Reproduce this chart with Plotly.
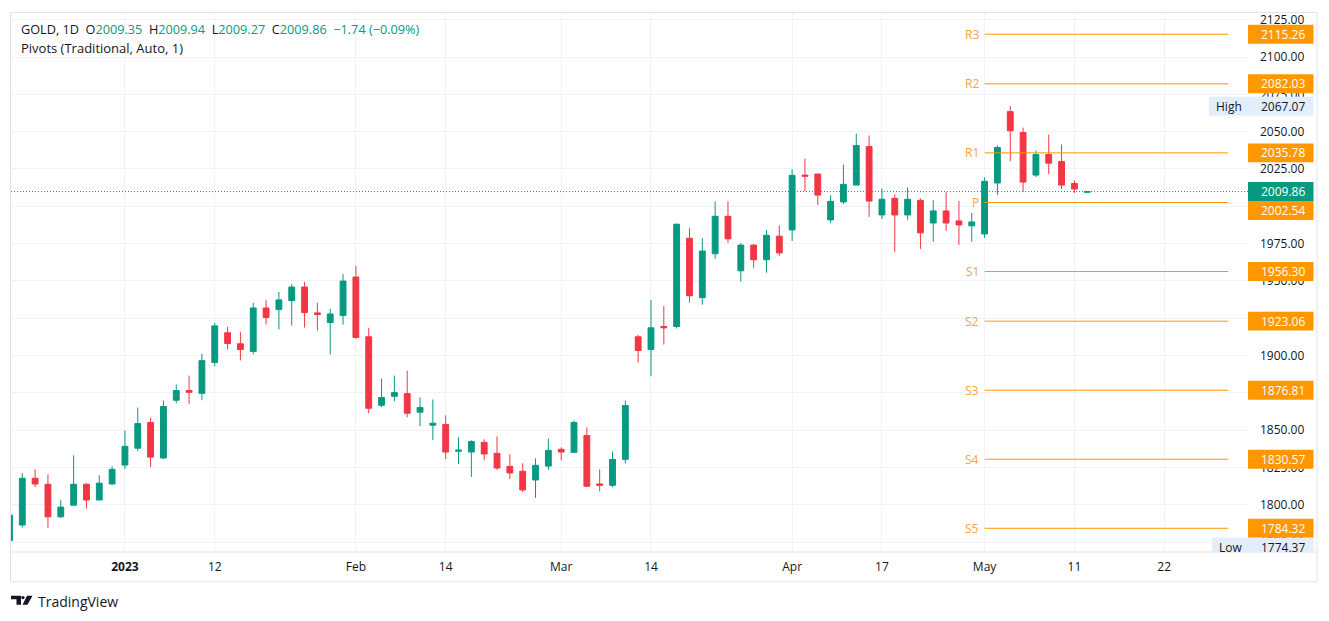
import plotly.graph_objects as go

# ---------------- data ----------------
opens = [1776.0, 1786.5, 1817.8, 1813.8, 1792.0, 1799.8, 1813.8, 1803.3, 1814.0, 1826.7,
         1838.0, 1855.2, 1831.4, 1870.1, 1876.6, 1874.7, 1895.4, 1915.3, 1907.9, 1902.8,
         1931.9, 1930.8, 1936.8, 1945.9, 1928.6, 1922.1, 1926.8, 1952.6, 1912.6, 1866.7,
         1872.7, 1874.5, 1862.1, 1853.4, 1853.9, 1835.9, 1835.4, 1841.9, 1834.5, 1825.8,
         1822.5, 1816.7, 1826.0, 1837.2, 1835.2, 1846.5, 1814.0, 1813.1, 1830.5, 1912.6,
         1904.1, 1919.5, 1919.5, 1978.6, 1938.8, 1968.2, 1993.3, 1956.8, 1974.0, 1964.2,
         1980.0, 1984.2, 2020.9, 2021.6, 1990.9, 2002.9, 2014.2, 2040.0, 1994.2, 2005.3,
         1994.2, 2004.0, 1988.8, 1996.9, 1990.2, 1986.9, 1981.5, 2015.6, 2063.4, 2049.4,
         2020.9, 2034.7, 2030.0, 2015.3, 2009.35]
highs = [1795.0, 1821.2, 1823.8, 1820.5, 1803.1, 1833.2, 1814.5, 1819.8, 1825.8, 1849.9,
         1865.2, 1858.5, 1869.9, 1880.6, 1886.6, 1901.2, 1921.9, 1919.3, 1915.9, 1935.3,
         1937.3, 1942.6, 1947.9, 1949.3, 1935.3, 1931.3, 1954.6, 1960.0, 1918.6, 1884.6,
         1886.6, 1889.9, 1871.9, 1870.6, 1859.9, 1845.4, 1843.2, 1843.9, 1845.9, 1833.8,
         1827.8, 1831.2, 1844.5, 1838.5, 1856.5, 1851.9, 1823.8, 1835.8, 1869.9, 1913.9,
         1937.3, 1933.3, 1988.3, 1985.3, 1978.6, 2003.3, 2003.3, 1975.3, 1974.6, 1984.0,
         1987.3, 2024.7, 2032.0, 2021.6, 2007.3, 2028.0, 2048.7, 2047.4, 2012.0, 2008.0,
         2012.7, 2005.3, 2004.0, 2009.3, 2003.5, 1995.5, 2019.4, 2040.7, 2067.07, 2052.7,
         2037.4, 2048.0, 2041.4, 2017.3, 2009.94]
lows = [1774.37, 1784.7, 1812.0, 1784.7, 1791.3, 1799.8, 1797.4, 1803.3, 1813.4, 1824.0,
        1836.0, 1825.4, 1830.9, 1868.1, 1867.4, 1870.1, 1892.8, 1904.1, 1896.8, 1900.8,
        1920.8, 1917.5, 1920.1, 1918.8, 1916.8, 1900.8, 1920.8, 1911.4, 1861.4, 1865.4,
        1869.4, 1858.7, 1852.7, 1843.4, 1830.7, 1827.4, 1818.7, 1830.0, 1823.4, 1817.4,
        1808.7, 1804.7, 1823.4, 1829.8, 1834.8, 1812.2, 1809.2, 1811.8, 1827.8, 1895.4,
        1886.1, 1907.4, 1918.1, 1935.5, 1934.1, 1964.8, 1975.5, 1949.5, 1958.8, 1955.5,
        1966.8, 1976.8, 2010.0, 2000.9, 1988.8, 2001.5, 2014.2, 1992.9, 1991.5, 1969.5,
        1990.9, 1971.5, 1976.2, 1983.5, 1974.2, 1976.2, 1978.8, 2007.5, 2030.2, 2009.5,
        2019.6, 2021.6, 2011.5, 2008.9, 2009.27]
closes = [1793.1, 1817.8, 1814.0, 1792.0, 1798.5, 1813.8, 1803.3, 1814.5, 1823.8, 1839.2,
          1854.5, 1832.0, 1865.9, 1876.6, 1875.4, 1896.6, 1919.9, 1908.1, 1904.1, 1931.9,
          1925.5, 1937.3, 1945.9, 1928.8, 1927.5, 1927.9, 1949.9, 1912.1, 1864.7, 1871.9,
          1875.2, 1861.4, 1865.2, 1854.7, 1835.4, 1836.7, 1842.5, 1834.1, 1824.7, 1821.4,
          1810.0, 1826.5, 1836.5, 1835.4, 1855.2, 1812.5, 1813.1, 1830.5, 1866.5, 1903.4,
          1918.6, 1918.6, 1988.0, 1940.1, 1970.0, 1993.3, 1978.2, 1974.0, 1964.2, 1980.6,
          1968.8, 2020.7, 2020.2, 2007.5, 2003.3, 2014.7, 2040.7, 2003.5, 2004.7, 1994.2,
          2004.7, 1982.2, 1996.9, 1988.8, 1987.5, 1989.5, 2016.7, 2039.4, 2050.6, 2016.2,
          2034.7, 2028.9, 2014.2, 2011.60, 2009.86]
bar_index = list(range(len(opens)))

tick_bars = [9, 16, 27, 34, 43, 50, 61, 68, 76, 83, 90]
tick_labels = ["<b>2023</b>", "12", "Feb", "14", "Mar", "14", "Apr", "17", "May", "11", "22"]

pivot_names = ["R3", "R2", "R1", "P", "S1", "S2", "S3", "S4", "S5"]
pivot_values = [2115.26, 2082.03, 2035.78, 2002.54, 1956.30, 1923.06, 1876.81, 1830.57, 1784.32]
pivot_start_bar = 76
pivot_end_bar = 95

range_high = 2067.07
range_low = 1774.37

# ---------------- style / layout ----------------
UP = "#089981"
DN = "#F23645"
ORANGE = "#FF9800"
PIV_TXT = "#F7A440"
TXT = "#131722"
GRID = "#F0F3FA"
BORDER = "#E0E3EB"
FONT = "Open Sans"

W, H = 1329, 621
ML, MR, MT, MB = 11, 81, 11, 69
PW, PH = W - ML - MR, H - MT - MB
Y_LO, Y_HI = 1768.44, 2129.47
X_LO, X_HI = 0.12, 96.53


def px_y(price):
    return MT + (Y_HI - price) / (Y_HI - Y_LO) * PH


def paper_x(px):
    return (px - ML) / PW


def paper_y(px):
    return 1 - (px - MT) / PH


fig = go.Figure()
fig.add_trace(go.Candlestick(
    x=bar_index, open=opens, high=highs, low=lows, close=closes,
    increasing=dict(line=dict(color=UP, width=1), fillcolor=UP),
    decreasing=dict(line=dict(color=DN, width=1), fillcolor=DN),
    whiskerwidth=0, showlegend=False, hoverinfo="skip",
))

shapes = []
annotations = []

# widget border and axis separator
shapes.append(dict(type="rect", xref="paper", yref="paper",
                   x0=paper_x(10.5), x1=paper_x(1317), y0=paper_y(582), y1=paper_y(10.5),
                   line=dict(color=BORDER, width=1), fillcolor="rgba(0,0,0,0)", layer="above"))
shapes.append(dict(type="line", xref="paper", yref="paper",
                   x0=paper_x(10.5), x1=paper_x(1317), y0=0, y1=0,
                   line=dict(color=BORDER, width=1), layer="above"))

# last price dotted line
last_close = closes[-1]
shapes.append(dict(type="line", xref="paper", yref="y", x0=0, x1=1, y0=last_close, y1=last_close,
                   line=dict(color=UP, width=1, dash="1px,2px"), layer="above"))

# pivot lines + labels
for name, val in zip(pivot_names, pivot_values):
    shapes.append(dict(type="line", xref="x", yref="y", x0=pivot_start_bar, x1=pivot_end_bar,
                       y0=val, y1=val, line=dict(color=ORANGE, width=1), layer="above"))
    annotations.append(dict(xref="x", yref="y", x=pivot_start_bar, y=val, xshift=-4,
                            text=name, showarrow=False, xanchor="right", yanchor="middle",
                            font=dict(family=FONT, size=12, color=PIV_TXT)))


def axis_label(price, text, bg, color, offset=0, x_left=1248, x_right=1313.5, prefix=None):
    cy = px_y(price) + offset
    top, bot = cy - 9.5, min(cy + 9.5, MT + PH)
    shapes.append(dict(type="rect", xref="paper", yref="paper",
                       x0=paper_x(x_left), x1=paper_x(x_right),
                       y0=paper_y(bot), y1=paper_y(top),
                       fillcolor=bg, line=dict(width=0), layer="above"))
    annotations.append(dict(xref="paper", yref="paper", x=paper_x(1259), y=paper_y(cy),
                            text=text, showarrow=False, xanchor="left", yanchor="middle",
                            font=dict(family=FONT, size=12, color=color)))
    if prefix:
        annotations.append(dict(xref="paper", yref="paper", x=paper_x(x_left + 5), y=paper_y(cy),
                                text=prefix, showarrow=False, xanchor="left", yanchor="middle",
                                font=dict(family=FONT, size=12, color=color)))


for name, val in zip(pivot_names, pivot_values):
    axis_label(val, f"{val:.2f}", ORANGE, "white", offset=8 if name == "P" else 0)
axis_label(last_close, f"{last_close:.2f}", UP, "white")
axis_label(range_high, f"{range_high:.2f}", "#E3EEFC", TXT, x_left=1209, prefix="High")
axis_label(range_low, f"{range_low:.2f}", "#E3EEFC", TXT, offset=4, x_left=1212, prefix="Low")

# header
o, h, l, c = opens[-1], highs[-1], lows[-1], closes[-1]
chg = c - closes[-2]
pct = chg / closes[-2] * 100


def fmt(v):
    return f"{v:.2f}".replace("-", "\u2212")


sp = "\u00a0 "
val_col = UP if c >= o else DN
hdr = (f"GOLD, 1D{sp}O<span style='color:{val_col}'>{o:.2f}</span>{sp}"
       f"H<span style='color:{val_col}'>{h:.2f}</span>{sp}"
       f"L<span style='color:{val_col}'>{l:.2f}</span>{sp}"
       f"C<span style='color:{val_col}'>{c:.2f}</span>{sp}"
       f"<span style='color:{val_col}'>{fmt(chg)} ({fmt(pct)}%)</span>")
annotations.append(dict(xref="paper", yref="paper", x=paper_x(19), y=paper_y(27),
                        text=hdr, showarrow=False, xanchor="left", yanchor="middle",
                        font=dict(family=FONT, size=12.7, color=TXT)))
annotations.append(dict(xref="paper", yref="paper", x=paper_x(19), y=paper_y(46),
                        text="Pivots (Traditional, Auto, 1)", showarrow=False,
                        xanchor="left", yanchor="middle",
                        font=dict(family=FONT, size=13, color=TXT)))


# TradingView logo
def pth(points):
    return "M " + " L ".join(f"{paper_x(a)},{paper_y(b)}" for a, b in points) + " Z"


shapes.append(dict(type="path", xref="paper", yref="paper",
                   path=pth([(11, 596), (21, 596), (21, 605), (16.5, 605), (16.5, 599.5), (11, 599.5)]),
                   fillcolor="#131722", line=dict(width=0), layer="above"))
shapes.append(dict(type="circle", xref="paper", yref="paper",
                   x0=paper_x(21.3), x1=paper_x(24.6), y0=paper_y(599.4), y1=paper_y(596.1),
                   fillcolor="#131722", line=dict(width=0), layer="above"))
shapes.append(dict(type="path", xref="paper", yref="paper",
                   path=pth([(27, 596), (32.5, 596), (27.5, 605), (22.5, 605)]),
                   fillcolor="#131722", line=dict(width=0), layer="above"))
annotations.append(dict(xref="paper", yref="paper", x=paper_x(36), y=paper_y(602),
                        text="TradingView", showarrow=False, xanchor="left", yanchor="middle",
                        font=dict(family=FONT, size=14, color=TXT)))

fig.update_layout(
    width=W, height=H,
    margin=dict(l=ML, r=MR, t=MT, b=MB, pad=0),
    paper_bgcolor="white", plot_bgcolor="white",
    font=dict(family=FONT, size=12, color=TXT),
    boxgap=0.35,
    shapes=shapes, annotations=annotations,
    showlegend=False,
    xaxis=dict(range=[X_LO, X_HI], tickmode="array", tickvals=tick_bars, ticktext=tick_labels,
               showgrid=True, gridcolor=GRID, gridwidth=1, zeroline=False, showline=False,
               ticks="", ticklabelstandoff=6, rangeslider=dict(visible=False),
               tickfont=dict(family=FONT, size=12, color=TXT), fixedrange=True),
    yaxis=dict(range=[Y_LO, Y_HI], side="right", tickmode="array",
               tickvals=[1775 + 25 * k for k in range(15)], tickformat=".2f",
               showgrid=True, gridcolor=GRID, gridwidth=1, zeroline=False, showline=False,
               ticks="", ticklabelstandoff=11,
               tickfont=dict(family=FONT, size=12, color=TXT), fixedrange=True),
)

fig.write_html("out.html")
